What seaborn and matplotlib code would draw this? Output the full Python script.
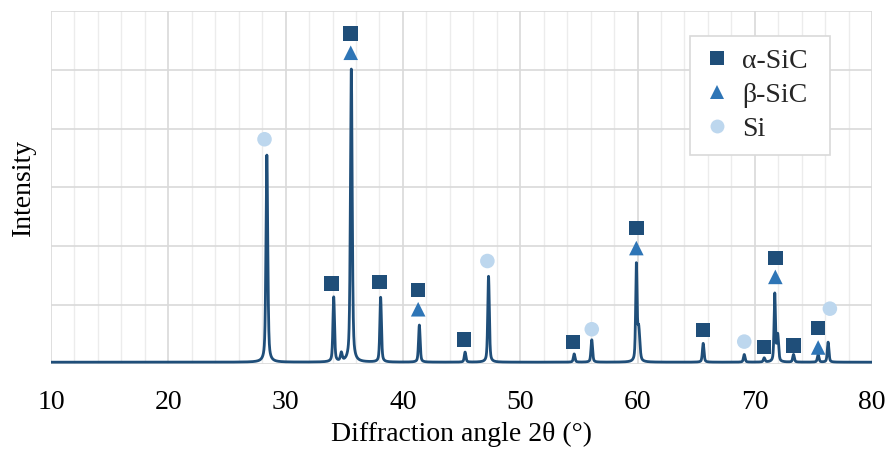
import numpy as np
import pandas as pd
import matplotlib
matplotlib.use("Agg")
import matplotlib.pyplot as plt
import seaborn as sns
from matplotlib.lines import Line2D

# --- data ---
peak_pos = [28.4, 34.1, 34.75, 35.6, 38.1, 41.4, 45.3, 47.3, 54.6, 56.1, 59.9, 60.1,
            65.6, 69.1, 70.8, 71.7, 71.95, 73.3, 75.4, 76.25]
peak_height = [3.52, 1.10, 0.14, 4.98, 1.10, 0.63, 0.17, 1.46, 0.14, 0.38, 1.60, 0.55,
               0.32, 0.13, 0.07, 1.15, 0.45, 0.13, 0.13, 0.34]
peak_width = [0.09, 0.08, 0.09, 0.09, 0.08, 0.08, 0.08, 0.08, 0.08, 0.08, 0.07, 0.11,
              0.08, 0.08, 0.08, 0.07, 0.09, 0.08, 0.08, 0.08]
baseline_level = 0.03

alpha_x = [35.55, 33.9, 38.0, 41.3, 45.2, 54.5, 59.9, 65.6, 70.8, 71.75, 73.3, 75.4]
alpha_y = [5.62, 1.37, 1.39, 1.26, 0.42, 0.37, 2.31, 0.58, 0.29, 1.80, 0.31, 0.61]
beta_x = [35.55, 41.3, 59.9, 71.75, 75.4]
beta_y = [5.29, 0.93, 1.97, 1.48, 0.28]
si_x = [28.2, 47.2, 56.1, 69.1, 76.4]
si_y = [3.82, 1.75, 0.59, 0.38, 0.94]

x_ticks = [10, 20, 30, 40, 50, 60, 70, 80]
phase_labels = ["α-SiC", "β-SiC", "Si"]

# --- build tables ---
two_theta = np.arange(10, 80.001, 0.01)
intensity = np.full_like(two_theta, baseline_level)
for p, h, w in zip(peak_pos, peak_height, peak_width):
    d = (two_theta - p) / w
    intensity += h * (0.5 / (1 + d ** 2) + 0.5 * np.exp(-np.log(2) * d ** 2))
curve = pd.DataFrame({"two_theta": two_theta, "intensity": intensity})

markers_df = pd.DataFrame({
    "x": alpha_x + beta_x + si_x,
    "y": alpha_y + beta_y + si_y,
    "phase": [phase_labels[0]] * len(alpha_x) + [phase_labels[1]] * len(beta_x)
             + [phase_labels[2]] * len(si_x),
})

# --- style ---
sns.set_theme(style="white")
plt.rcParams["font.family"] = ["Liberation Serif", "DejaVu Serif"]

fig = plt.figure(figsize=(8.89, 4.51), dpi=100)
ax = fig.add_axes([0.0574, 0.193, 0.9236, 0.7826])

line_color = "#1f4e79"
colors = {"α-SiC": "#1f4e79", "β-SiC": "#2e75b6", "Si": "#bdd7ee"}
mk = {"α-SiC": "s", "β-SiC": "^", "Si": "o"}

sns.lineplot(data=curve, x="two_theta", y="intensity", color=line_color,
             linewidth=2.0, ax=ax, legend=False, zorder=3)
sns.scatterplot(data=markers_df, x="x", y="y", hue="phase", style="phase",
                palette=colors, markers=mk, s=110, linewidth=0, ax=ax,
                zorder=4, legend=False)

ax.set_xlim(10, 80)
ax.set_ylim(0, 6)
ax.set_xticks(x_ticks)
ax.set_xticks(np.arange(10, 81, 2), minor=True)
ax.set_yticks(np.arange(0, 6.01, 1))
ax.set_yticklabels([])
ax.tick_params(axis="x", which="both", length=0, labelsize=20, pad=19, colors="#000000")
ax.tick_params(axis="y", length=0, pad=0)
ax.grid(True, which="major", color="#d9d9d9", linewidth=1.2)
ax.grid(True, which="minor", axis="x", color="#ececec", linewidth=1.0)
ax.set_axisbelow(True)
for s in ax.spines.values():
    s.set_visible(False)

ax.set_xlabel("Diffraction angle 2θ (°)", fontsize=20, labelpad=5, color="#000000")
ax.set_ylabel("Intensity", fontsize=20, labelpad=11, color="#000000")

handles = [Line2D([], [], linestyle="none", marker=mk[p], color=colors[p],
                  markersize=10, markeredgewidth=0) for p in phase_labels]
leg = ax.legend(handles, phase_labels, loc="upper left",
                bbox_to_anchor=(0.778, 0.598, 0.1705, 0.331), mode="expand",
                fontsize=20, frameon=True, fancybox=False, framealpha=1,
                edgecolor="#d9d9d9", handletextpad=0.38, labelspacing=0.31,
                borderpad=0.45, handlelength=1.04, borderaxespad=0)
leg.get_frame().set_linewidth(1.2)

fig.savefig("out.png", dpi=100)
